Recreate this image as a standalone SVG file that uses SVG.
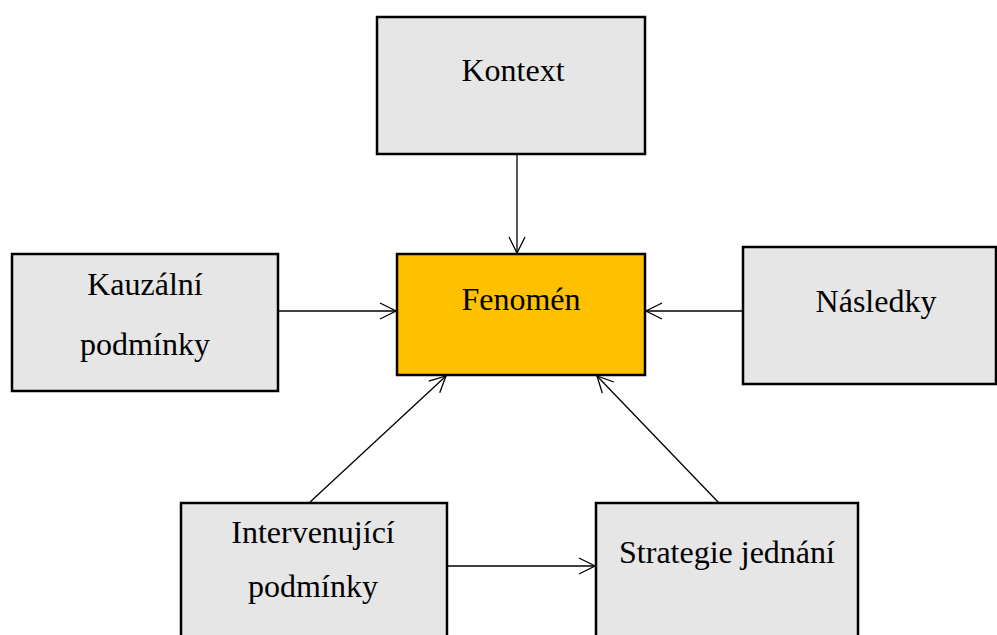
<svg xmlns="http://www.w3.org/2000/svg" width="997" height="635" viewBox="0 0 997 635">
<defs>
<marker id="arr" viewBox="0 0 20 20" refX="18" refY="10" markerWidth="20" markerHeight="20" markerUnits="userSpaceOnUse" orient="auto">
<path d="M2,2 L18,10 L2,18" fill="none" stroke="#000" stroke-width="1.3"/>
</marker>
<style>
.box{fill:#E6E6E6;stroke:#000;stroke-width:2.5}
.core{fill:#FFC000;stroke:#000;stroke-width:2.5}
.t{font-family:"Liberation Serif","Times New Roman",serif;font-size:32px;fill:#000;text-anchor:middle}
.c{fill:none;stroke:#000;stroke-width:1.3;marker-end:url(#arr)}
</style>
</defs>
<rect width="997" height="635" fill="#fff"/>
<g id="connectors">
<line class="c" x1="517" y1="154" x2="517" y2="253"/>
<line class="c" x1="278" y1="311" x2="396" y2="311"/>
<line class="c" x1="743" y1="311" x2="646" y2="311"/>
<line class="c" x1="309" y1="503" x2="446" y2="376"/>
<line class="c" x1="719" y1="503" x2="597" y2="376"/>
<line class="c" x1="447" y1="566" x2="595" y2="566"/>
</g>
<g id="kontext">
<rect class="box" x="377" y="17" width="268" height="137"/>
<text class="t" x="513" y="81">Kontext</text>
</g>
<g id="fenomen">
<rect class="core" x="397" y="254" width="248" height="121"/>
<text class="t" x="521" y="310">Fenomén</text>
</g>
<g id="kauzalni">
<rect class="box" x="12" y="254" width="266" height="137"/>
<text class="t" x="145" y="295">Kauzální</text>
<text class="t" x="145" y="355">podmínky</text>
</g>
<g id="nasledky">
<rect class="box" x="743" y="247" width="253" height="137"/>
<text class="t" x="876" y="312">Následky</text>
</g>
<g id="intervenujici">
<rect class="box" x="181" y="503" width="266" height="140"/>
<text class="t" x="313" y="543">Intervenující</text>
<text class="t" x="313" y="597">podmínky</text>
</g>
<g id="strategie">
<rect class="box" x="596" y="503" width="262" height="140"/>
<text class="t" x="727" y="563">Strategie jednání</text>
</g>
</svg>
